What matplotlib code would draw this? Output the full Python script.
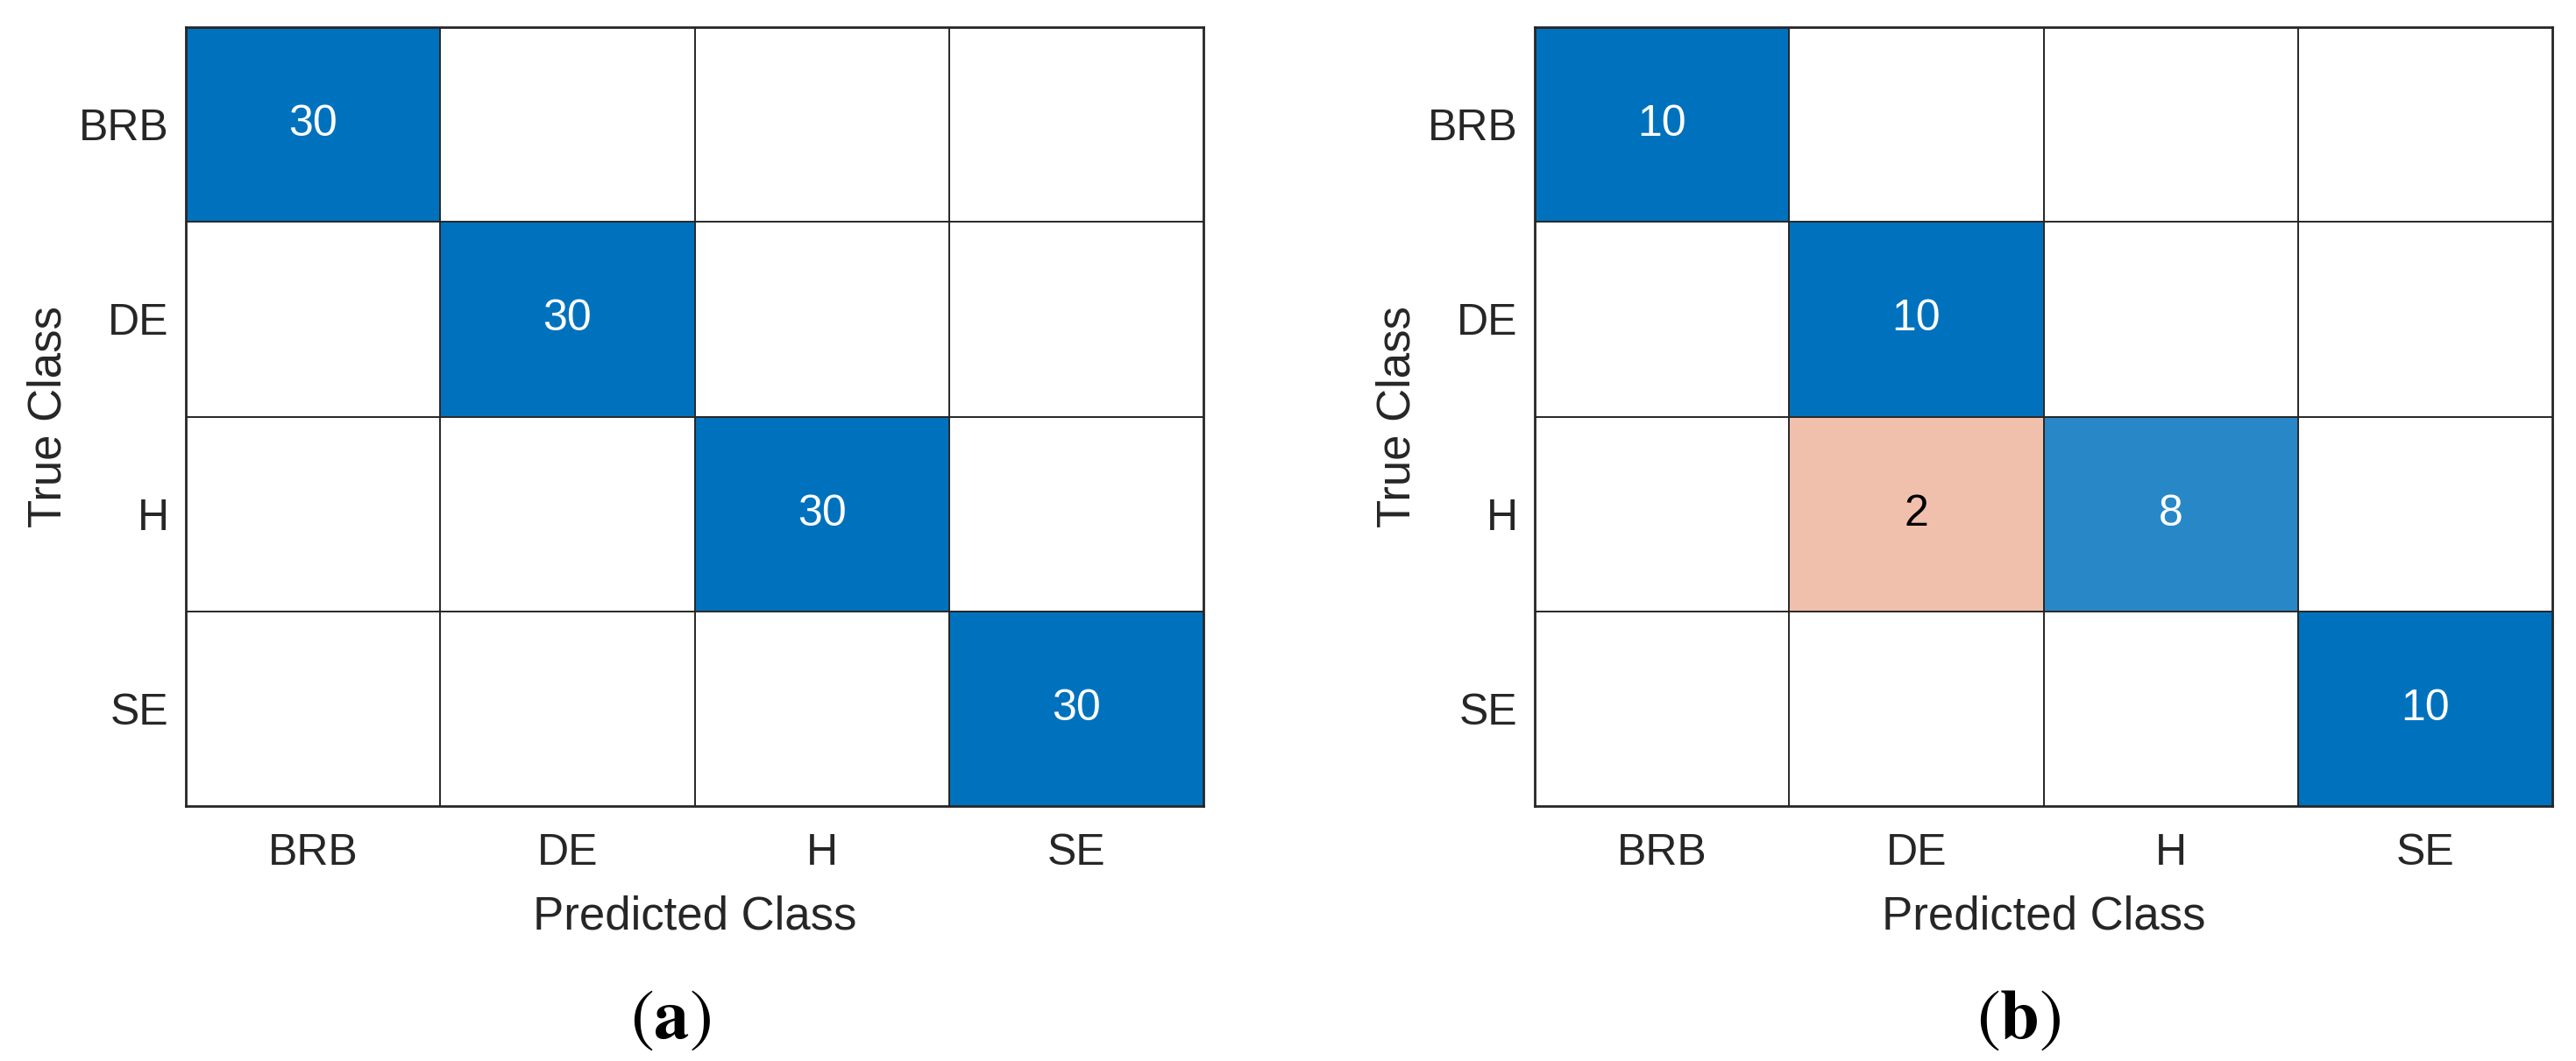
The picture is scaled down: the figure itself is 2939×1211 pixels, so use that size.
import matplotlib
matplotlib.use("Agg")
import matplotlib.pyplot as plt
import numpy as np
from matplotlib.colors import LinearSegmentedColormap, Normalize

plt.rcParams['font.family'] = ['Liberation Sans', 'DejaVu Sans']
plt.rcParams['mathtext.fontset'] = 'stix'

classes = ['BRB', 'DE', 'H', 'SE']
cm_a = np.array([[30, 0, 0, 0],
                 [0, 30, 0, 0],
                 [0, 0, 30, 0],
                 [0, 0, 0, 30]])
cm_b = np.array([[10, 0, 0, 0],
                 [0, 10, 0, 0],
                 [0, 2, 8, 0],
                 [0, 0, 0, 10]])
panel_labels = ['a', 'b']

W, H = 2939, 1211
fig = plt.figure(figsize=(W / 100, H / 100), dpi=100)

blue_cmap = LinearSegmentedColormap.from_list('diag', ['#ffffff', '#0072bd'])
orange_cmap = LinearSegmentedColormap.from_list('off', ['#ffffff', '#d95319'])
text_dark = '#262626'

# axes boxes in pixels: left, top, right, bottom
boxes = [(212, 31, 1373, 920), (1751, 31, 2912, 920)]

for cm, (l, t, r, b), lab in zip([cm_a, cm_b], boxes, panel_labels):
    ax = fig.add_axes([l / W, 1 - b / H, (r - l) / W, (b - t) / H])
    n = len(classes)
    eye = np.eye(n, dtype=bool)
    # MATLAB style shading: colour starts at 20% for the smallest nonzero count
    norm = Normalize(vmin=-cm.max() / 4, vmax=cm.max())
    diag = np.ma.masked_where(~eye | (cm == 0), cm)
    off = np.ma.masked_where(eye | (cm == 0), cm)
    ax.imshow(diag, cmap=blue_cmap, norm=norm, aspect='auto', interpolation='nearest')
    ax.imshow(off, cmap=orange_cmap, norm=norm, aspect='auto', interpolation='nearest')

    for i in range(n):
        for j in range(n):
            v = cm[i, j]
            if v == 0:
                continue
            cmap = blue_cmap if i == j else orange_cmap
            rgb = cmap(norm(v))
            lum = 0.299 * rgb[0] + 0.587 * rgb[1] + 0.114 * rgb[2]
            ax.text(j, i, str(v), ha='center', va='center', fontsize=36,
                    color='white' if lum < 0.6 else 'black')

    for k in np.arange(0.5, n - 1, 1.0):
        ax.axhline(k, color=text_dark, lw=1.4)
        ax.axvline(k, color=text_dark, lw=1.4)

    ax.set_xlim(-0.5, n - 0.5)
    ax.set_ylim(n - 0.5, -0.5)
    ax.set_xticks(range(n))
    ax.set_yticks(range(n))
    ax.set_xticklabels(classes)
    ax.set_yticklabels(classes)
    ax.tick_params(length=0, labelsize=36, labelcolor=text_dark, pad=14)
    ax.tick_params(axis='x', pad=22)
    for s in ax.spines.values():
        s.set_color(text_dark)
        s.set_linewidth(2)
    ax.set_xlabel('Predicted Class', fontsize=38, color=text_dark, labelpad=18)
    ax.set_ylabel('True Class', fontsize=38, color=text_dark, labelpad=7)

    cx = (l + r) / 2 - 28
    fig.text(cx / W, 1 - 1164 / H, r'$(\mathbf{' + lab + '})$', fontsize=58,
             ha='center', va='center', color='black')

fig.savefig('out.png', dpi=100, facecolor='white')
